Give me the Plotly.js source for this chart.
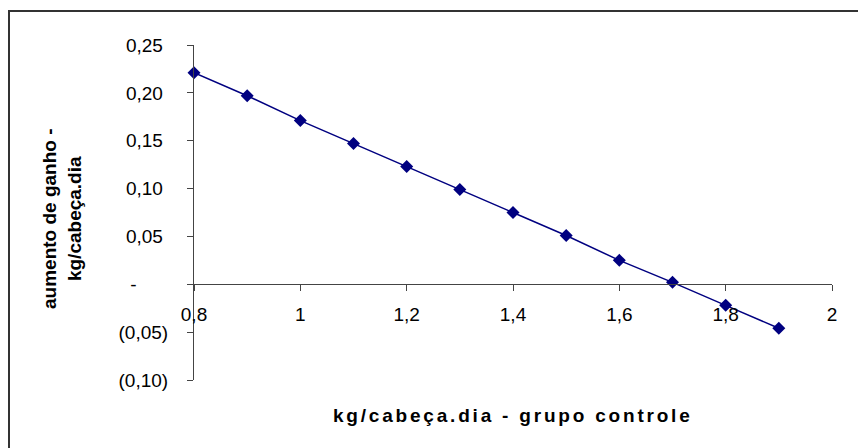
<!DOCTYPE html>
<html>
<head>
<meta charset="utf-8">
<script src="https://cdn.plot.ly/plotly-3.0.1.min.js"></script>
<style>
  html, body { margin: 0; padding: 0; background: #fff; }
  #chart { width: 858px; height: 448px; }
</style>
</head>
<body>
<div id="chart"></div>
<script>
// Data
const xValues = [0.8, 0.9, 1.0, 1.1, 1.2, 1.3, 1.4, 1.5, 1.6, 1.7, 1.8, 1.9];
const yValues = [0.221, 0.197, 0.171, 0.147, 0.123, 0.099, 0.075, 0.051, 0.025, 0.002, -0.022, -0.046];

const xTickVals = [0.8, 1.0, 1.2, 1.4, 1.6, 1.8, 2.0];
const xTickText = ["0,8", "1", "1,2", "1,4", "1,6", "1,8", "2"];
const yTickVals = [-0.10, -0.05, 0, 0.05, 0.10, 0.15, 0.20, 0.25];
const yTickText = ["(0,10)", "(0,05)", "-\u00A0\u00A0\u00A0\u00A0\u00A0\u00A0", "0,05\u00A0", "0,10\u00A0", "0,15\u00A0", "0,20\u00A0", "0,25\u00A0"];

const xTitle = "kg/cabeça.dia - grupo controle";
const yTitle = "aumento de ganho -<br>kg/cabeça.dia";

const FONT = "'Liberation Sans', Arial, sans-serif";
const AXIS_COLOR = "#444";

const trace = {
  x: xValues,
  y: yValues,
  type: "scatter",
  mode: "lines+markers",
  line: { color: "#000080", width: 1.5 },
  marker: { symbol: "diamond", size: 10, color: "#000080" },
  cliponaxis: false,
  hoverinfo: "none"
};

const layout = {
  width: 858,
  height: 448,
  margin: { l: 194, r: 26, t: 45, b: 68 },
  paper_bgcolor: "#ffffff",
  plot_bgcolor: "#ffffff",
  showlegend: false,
  font: { family: FONT, size: 19, color: "#000" },
  xaxis: {
    range: [0.8, 2.0],
    tickmode: "array",
    tickvals: xTickVals,
    ticktext: xTickText,
    anchor: "free",
    position: 0.10 / 0.35,
    showline: true,
    linecolor: AXIS_COLOR,
    linewidth: 1,
    ticks: "outside",
    ticklen: 6,
    tickcolor: AXIS_COLOR,
    tickwidth: 1,
    ticklabelstandoff: 7,
    showgrid: false,
    zeroline: false,
    tickfont: { family: FONT, size: 19, color: "#000" },
    fixedrange: true
  },
  yaxis: {
    range: [-0.10, 0.25],
    tickmode: "array",
    tickvals: yTickVals,
    ticktext: yTickText,
    showline: true,
    linecolor: AXIS_COLOR,
    linewidth: 1,
    ticks: "outside",
    ticklen: 6,
    tickcolor: AXIS_COLOR,
    tickwidth: 1,
    ticklabelstandoff: 15,
    showgrid: false,
    zeroline: false,
    tickfont: { family: FONT, size: 19, color: "#000" },
    fixedrange: true
  },
  annotations: [
    {
      text: xTitle,
      xref: "paper", yref: "paper",
      x: 0.5, y: (380 - 415) / 335,
      xanchor: "center", yanchor: "middle",
      showarrow: false,
      font: { family: FONT, size: 19, color: "#000", weight: "bold" }
    },
    {
      text: yTitle,
      xref: "paper", yref: "paper",
      x: (62 - 194) / 638, y: (380 - 219) / 335,
      xanchor: "center", yanchor: "middle",
      textangle: -90,
      showarrow: false,
      font: { family: FONT, size: 19, color: "#000", weight: "bold" }
    }
  ],
  shapes: [
    { type: "line", xref: "paper", yref: "paper",
      x0: (8 - 194) / 638, x1: (860 - 194) / 638,
      y0: (380 - 11) / 335, y1: (380 - 11) / 335,
      line: { color: "#333", width: 2 } },
    { type: "line", xref: "paper", yref: "paper",
      x0: (9 - 194) / 638, x1: (9 - 194) / 638,
      y0: (380 - 10) / 335, y1: (380 - 450) / 335,
      line: { color: "#333", width: 2 } }
  ]
};

Plotly.newPlot("chart", [trace], layout, { staticPlot: true, displayModeBar: false }).then(function () {
  // Excel-style wide letter spacing on the horizontal axis title
  const anns = document.querySelectorAll("g.annotation");
  if (anns.length) {
    const t = anns[0].querySelector("text");
    if (t) t.style.letterSpacing = "2.8px";
  }
});
</script>
</body>
</html>
